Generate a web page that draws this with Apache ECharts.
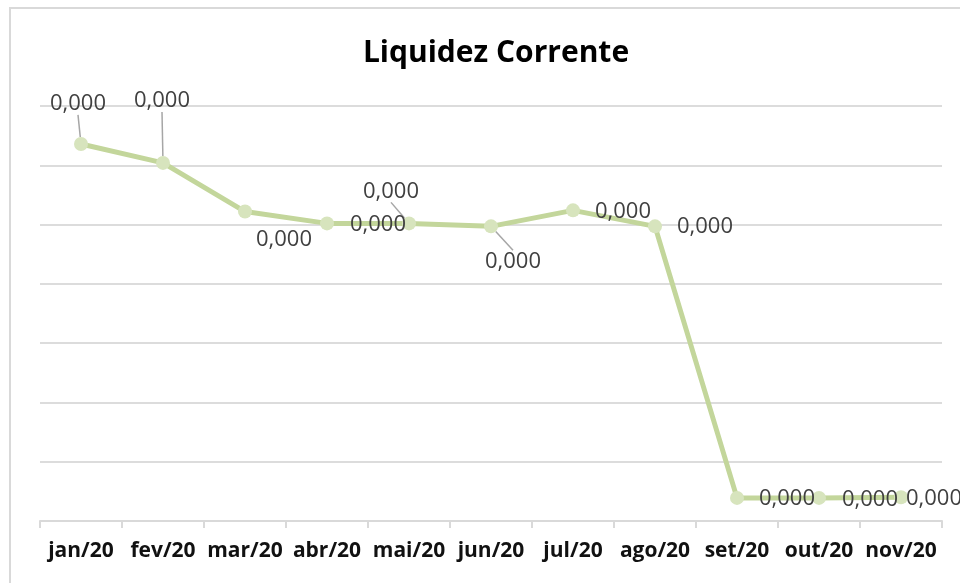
<!DOCTYPE html>
<html>
<head>
<meta charset="utf-8">
<script src="https://cdn.jsdelivr.net/npm/echarts@6/dist/echarts.min.js"></script>
<style>
  html, body { margin: 0; padding: 0; background: #fff; }
  #chart { width: 960px; height: 583px; }
</style>
</head>
<body>
<div id="chart"></div>
<script>
// meses
var months = ["jan/20", "fev/20", "mar/20", "abr/20", "mai/20", "jun/20", "jul/20", "ago/20", "set/20", "out/20", "nov/20"];
// liquidez corrente (valores muito pequenos, por isso 0,000)
var liquidez = [0.000318, 0.000302, 0.000261, 0.000251, 0.000251, 0.0002485, 0.000262, 0.0002485, 0.0000195, 0.0000195, 0.00002];
// deslocamento dos rótulos (px) e quais têm linha de chamada
var labelOffsets = [[-3, -40], [-1, -62], [39, 28], [51, 1], [-18, -32], [22, 35], [50, 1], [50, 0], [50, 1], [51, 2], [33, 1]];
var withLeader = [true, true, false, false, true, true, false, false, false, false, false];

var chart = echarts.init(document.getElementById("chart"));

var seriesData = liquidez.map((v, i) => {
    return {
        value: v,
        labelLine: { show: withLeader[i] }
    };
});

chart.setOption({
    animation: false,
    title: {
        text: "Liquidez Corrente",
        left: 491,
        top: 33,
        textAlign: "center",
        textStyle: {
            fontFamily: "Open Sans",
            fontSize: 30,
            fontWeight: "bold",
            color: "#000"
        }
    },
    graphic: [{
        type: "polyline",
        shape: { points: [[10, 583], [10, 8], [960, 8]] },
        style: { stroke: "#d9d9d9", lineWidth: 2, fill: null },
        silent: true
    }],
    grid: { left: 40, right: 18, top: 106, bottom: 62 },
    xAxis: {
        type: "category",
        data: months,
        boundaryGap: true,
        axisLine: { lineStyle: { color: "#d9d9d9", width: 2 } },
        axisTick: { show: true, interval: 0, length: 7, lineStyle: { color: "#d9d9d9", width: 2 } },
        axisLabel: {
            interval: 0,
            margin: 20,
            fontFamily: "Open Sans",
            fontSize: 21,
            fontWeight: "bold",
            color: "#111"
        }
    },
    yAxis: {
        type: "value",
        min: 0,
        max: 0.00035,
        interval: 0.00005,
        axisLine: { show: false },
        axisTick: { show: false },
        axisLabel: { show: false },
        splitLine: { lineStyle: { color: "#dcdcdc", width: 2 } }
    },
    series: [{
        type: "line",
        data: seriesData,
        symbol: "circle",
        symbolSize: 14,
        itemStyle: { color: "#d7e4bd" },
        lineStyle: { color: "#c3d69b", width: 5 },
        z: 2,
        label: {
            show: true,
            position: "inside",
            fontFamily: "Open Sans",
            fontSize: 22,
            color: "#404040",
            formatter: (p) => p.value.toFixed(3).replace(".", ",")
        },
        labelLine: {
            show: false,
            lineStyle: { color: "#a6a6a6", width: 1.5 }
        },
        labelLayout: (params) => {
            var off = labelOffsets[params.dataIndex];
            return { dx: off[0], dy: off[1], hideOverlap: false };
        }
    }]
});
</script>
</body>
</html>
